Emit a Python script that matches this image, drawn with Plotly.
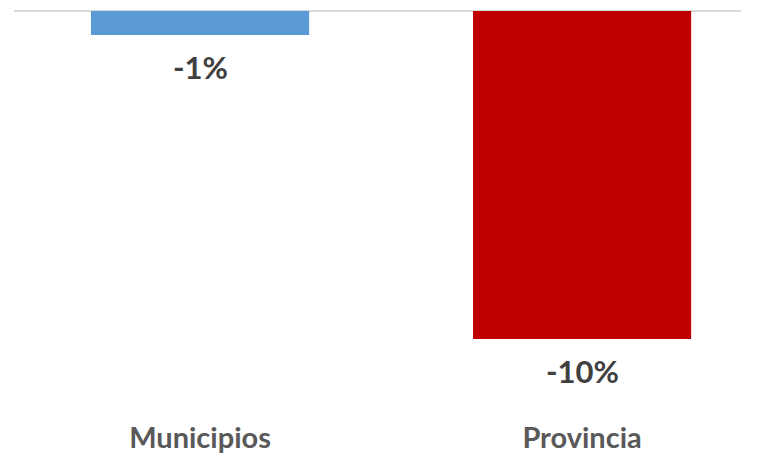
import plotly.graph_objects as go

categories = ["Municipios", "Provincia"]
values = [-0.0073, -0.10]
bar_colors = ["#5B9BD5", "#C00000"]
value_labels = [f"{v:.0%}" for v in values]

W, H = 761, 457
px_per_unit = 3280.0
mt, mb = 0, 45
plot_h = H - mt - mb
ymax = 11 / px_per_unit
ymin = ymax - plot_h / px_per_unit

fig = go.Figure()
fig.add_trace(go.Bar(
    x=categories, y=values,
    marker=dict(color=bar_colors, line=dict(width=0)),
    width=0.571,
    hoverinfo="skip",
))

for c, v, t in zip(categories, values, value_labels):
    fig.add_annotation(
        x=c, y=v, text=t, showarrow=False,
        yanchor="top", yshift=-11,
        font=dict(family="Lato", size=31, color="#404040", weight=700),
    )

fig.update_layout(
    width=W, height=H,
    margin=dict(l=14, r=20, t=mt, b=mb, pad=0),
    paper_bgcolor="white", plot_bgcolor="white",
    showlegend=False,
    xaxis=dict(
        range=[-0.487, 1.416],
        showgrid=False, zeroline=False, showline=False,
        ticks="", ticklabelstandoff=6,
        tickfont=dict(family="Lato", size=29, color="#595959", weight=700),
    ),
    yaxis=dict(
        range=[ymin, ymax],
        showgrid=False, showticklabels=False, ticks="",
        zeroline=True, zerolinecolor="#D9D9D9", zerolinewidth=2,
        showline=False,
    ),
)

fig.write_html("out.html")
